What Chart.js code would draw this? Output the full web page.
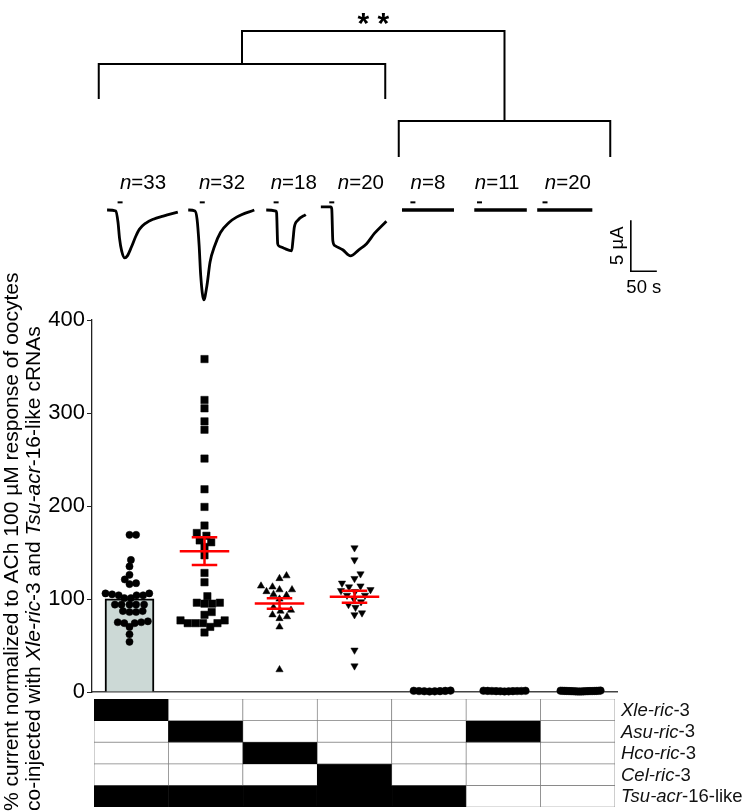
<!DOCTYPE html>
<html>
<head>
<meta charset="utf-8">
<script src="https://cdn.jsdelivr.net/npm/chart.js@4.4.0/dist/chart.umd.min.js"></script>
<style>
  html, body { margin: 0; padding: 0; background: #fff; }
  #wrap { position: relative; width: 750px; height: 812px; }
  #wrap canvas { position: absolute; left: 0; }
</style>
</head>
<body>
<div id="wrap">
  <canvas id="main" width="750" height="812" style="top:0"></canvas>
  <canvas id="traces" width="750" height="320" style="top:0"></canvas>
  <canvas id="table" width="750" height="115" style="top:697px"></canvas>
</div>
<script>
const FONT = '"Liberation Sans", Arial, sans-serif';

// ---- data: % current normalized to Xle-ric-3 + Tsu-acr-16-like ----
const xleRic3 = [169, 169, 142, 135, 126, 121, 116, 117, 104, 104, 104, 106, 106, 105, 101, 101,
  94, 94, 94, 94, 94, 87, 86, 86, 87, 76, 75, 74, 75, 74, 70, 62, 54];
const asuRic3 = [358, 314, 305, 291, 282, 251, 218, 199, 179, 171, 168, 163, 161, 156, 147, 128,
  118, 103, 96, 96, 95, 95, 86, 77, 77, 83, 74, 74, 74, 74, 70, 64];
const hcoRic3 = [122, 125, 110, 110, 108, 113, 114, 104, 105, 100, 91, 88, 83, 87, 81, 79, 70, 24];
const celRic3 = [155, 142, 127, 122, 113, 117, 114, 109, 104, 108, 110, 94, 97, 91, 83, 85, 45, 28, 104, 100];
const tsuOnly = [1.2, 0.8, 1.5, 0.6, 1.0, 1.3, 0.7, 0.9];
const asuOnly = [0.9, 1.1, 0.8, 1.3, 0.6, 1.0, 1.2, 0.7, 1.4, 0.9, 1.1];
const noRic = [1.0, 0.8, 1.3, 0.6, 1.1, 0.9, 1.4, 0.7, 1.2, 1.0, 0.5, 1.3, 0.8, 1.1, 0.9, 1.5, 0.6, 1.2, 1.0, 0.7];

const groups = [xleRic3, asuRic3, hcoRic3, celRic3, tsuOnly, asuOnly, noRic];
const yTicks = [0, 100, 200, 300, 400];

// injection table (1 = cRNA injected)
const genes = ['Xle-ric-3', 'Asu-ric-3', 'Hco-ric-3', 'Cel-ric-3', 'Tsu-acr-16-like'];
const injected = [
  [1, 0, 0, 0, 0, 0, 0],
  [0, 1, 0, 0, 0, 1, 0],
  [0, 0, 1, 0, 0, 0, 0],
  [0, 0, 0, 1, 0, 0, 0],
  [1, 1, 1, 1, 1, 0, 0]
];

// representative traces: [time s, current µA]
const trace1 = [[0, 0], [17, -0.1], [21, -1.2], [24, -2.8], [28, -4.0], [34, -4.7], [39, -4.5], [47, -3.6],
  [55, -2.6], [62, -1.9], [74, -1.3], [89, -0.9], [108, -0.6], [136, -0.2]];
const trace2 = [[0, 0], [13, -0.1], [17, -0.9], [21, -3.5], [24, -6.4], [30, -8.8], [36, -7.4], [42, -5.1],
  [51, -3.5], [62, -2.2], [78, -1.25], [93, -0.7], [127, 0]];
const trace3 = [[0, 0], [19, -0.1], [20, -0.3], [22, -3.3], [25, -3.55], [34, -3.75], [49, -4.0], [51.5, -2.9],
  [54, -1.7], [61, -1.0], [76, -0.45]];
const trace4 = [[0, 0.3], [19, 0.3], [21, 0.1], [23, -3.0], [27, -3.5], [42, -3.9], [57, -4.5], [73, -3.9],
  [88, -3.3], [103, -2.3], [126, -1.1]];
const trace5 = [[0, 0], [100, 0]];
const trace6 = [[0, 0], [101, 0]];
const trace7 = [[0, 0], [106, 0]];
const traces = [trace1, trace2, trace3, trace4, trace5, trace6, trace7];
const achAt = [25, 27, 19, 21, 21, 10, 15];   // ACh application, s after trace start

// ---- layout ----
const AREA = { left: 92, right: 617, top: 320, bottom: 692 };
const PX_X = (AREA.right - AREA.left) / 7;
const PX_Y = (AREA.bottom - AREA.top) / 400;
const traceStart = [29, 185, 335, 440, 596, 735, 856];   // panel time axis, s
const nLabelAt = [98, 250, 388, 517, 646, 779, 915];
const SCALE_BAR = { t: 1036, i: -1, dt: 50, di: 5 };
const COLS = [0, 1, 2, 3, 4, 5, 6];

const mean = a => a.reduce((s, v) => s + v, 0) / a.length;
const sem = a => {
  const m = mean(a);
  return Math.sqrt(a.reduce((s, v) => s + (v - m) ** 2, 0) / (a.length - 1)) / Math.sqrt(a.length);
};

// beeswarm offsets (in category units)
function swarm(vals, d, maxHalf) {
  const order = vals.map((v, i) => i).sort((a, b) => vals[a] - vals[b]);
  const placed = [];
  const off = new Array(vals.length).fill(0);
  for (const i of order) {
    const y = vals[i] * PX_Y;
    let dx = 0;
    for (let k = 0; k < 600; k++) {
      dx = (k % 2 ? 1 : -1) * Math.ceil(k / 2) * 0.5;
      if (placed.every(p => Math.hypot(p.x - dx, p.y - y) >= d)) break;
    }
    placed.push({ x: dx, y });
    off[i] = dx;
  }
  const m = Math.max(...off.map(Math.abs));
  const s = m > maxHalf ? maxHalf / m : 1;
  return off.map(o => o * s / PX_X);
}

function errBar(c, vals) {
  const m = mean(vals), s = sem(vals);
  return [
    { x: c - 0.33, y: m }, { x: c + 0.33, y: m }, { x: c, y: null },
    { x: c - 0.17, y: m + s }, { x: c + 0.17, y: m + s }, { x: c, y: null },
    { x: c - 0.17, y: m - s }, { x: c + 0.17, y: m - s }, { x: c, y: null },
    { x: c, y: m - s }, { x: c, y: m + s }
  ];
}

function geneSegs(name) {
  const m = name.match(/^(\w+-(?:ric|acr))(.*)$/);
  return m ? [[m[1], 1], [m[2], 0]] : [[name, 0]];
}

function drawRich(ctx, segs, x, y, size, align) {
  const fontOf = it => (it ? 'italic ' : '') + size + 'px ' + FONT;
  let w = 0;
  segs.forEach(([t, it]) => { ctx.font = fontOf(it); w += ctx.measureText(t).width; });
  let cx = align === 'center' ? x - w / 2 : x;
  ctx.textAlign = 'left';
  segs.forEach(([t, it]) => { ctx.font = fontOf(it); ctx.fillText(t, cx, y); cx += ctx.measureText(t).width; });
}

// ---- main scatter chart ----
const markers = [
  { style: 'circle', r: 3.6, d: 6.6, half: 24 },
  { style: 'rect', r: 5.2, d: 8, half: 24 },
  { style: 'triangle', r: 4.2, d: 7.5, half: 24 },
  { style: 'triangle', r: 4.2, d: 7.5, half: 24, rot: 180 },
  { style: 'circle', r: 3.8, d: 7, half: 21 },
  { style: 'circle', r: 3.8, d: 7, half: 21 },
  { style: 'circle', r: 3.8, d: 7, half: 21 }
];

const datasets = [{
  type: 'bar',
  data: [{ x: 0, y: mean(xleRic3) }],
  backgroundColor: 'rgb(204,217,214)',
  borderColor: '#000',
  borderWidth: 2,
  barThickness: 49,
  order: 3
}];

groups.forEach((vals, g) => {
  const mk = markers[g];
  const off = swarm(vals, mk.d, mk.half);
  datasets.push({
    type: 'scatter',
    data: vals.map((v, i) => ({ x: g + off[i], y: v })),
    pointStyle: mk.style,
    pointRotation: mk.rot || 0,
    pointRadius: mk.r,
    backgroundColor: '#000',
    borderColor: '#000',
    borderWidth: 0.5,
    clip: false,
    order: 2
  });
});

[1, 2, 3].forEach(g => {
  datasets.push({
    type: 'line',
    data: errBar(g, groups[g]),
    borderColor: '#ff0000',
    borderWidth: 2.5,
    pointRadius: 0,
    spanGaps: false,
    order: 1
  });
});

const mainDecor = {
  id: 'mainDecor',
  afterDraw(chart) {
    const { ctx, scales: { x } } = chart;
    ctx.save();
    ctx.strokeStyle = '#000';
    ctx.lineWidth = 2;
    const l0 = x.getPixelForValue(-0.41), l1 = x.getPixelForValue(3.41);
    const r0 = x.getPixelForValue(3.59), r1 = x.getPixelForValue(6.41);
    const lm = (l0 + l1) / 2, rm = (r0 + r1) / 2;
    const yTop = 31, yL = 64, yLEnd = 99, yR = 121, yREnd = 157;
    ctx.beginPath();
    ctx.moveTo(l0, yLEnd); ctx.lineTo(l0, yL); ctx.lineTo(l1, yL); ctx.lineTo(l1, yLEnd);
    ctx.moveTo(r0, yREnd); ctx.lineTo(r0, yR); ctx.lineTo(r1, yR); ctx.lineTo(r1, yREnd);
    ctx.moveTo(lm, yL); ctx.lineTo(lm, yTop); ctx.lineTo(rm, yTop); ctx.lineTo(rm, yR);
    ctx.stroke();

    ctx.fillStyle = '#000';
    ctx.font = 'bold 30px ' + FONT;
    ctx.textAlign = 'center';
    ctx.textBaseline = 'alphabetic';
    ctx.fillText('* *', (lm + rm) / 2, 33);

    // y axis title, two lines
    ctx.textBaseline = 'middle';
    ctx.translate(0, 811);
    ctx.rotate(-Math.PI / 2);
    drawRich(ctx, [['% current normalized to ACh 100 µM response of oocytes', 0]], 0, 12, 21, 'left');
    drawRich(ctx, [['co-injected with ', 0], ...geneSegs('Xle-ric-3'), [' and ', 0],
      ...geneSegs('Tsu-acr-16-like'), [' cRNAs', 0]], 0, 34, 21, 'left');
    ctx.restore();
  }
};

new Chart(document.getElementById('main'), {
  data: { datasets },
  options: {
    responsive: false,
    devicePixelRatio: 1,
    animation: false,
    events: [],
    layout: { padding: { left: AREA.left - 60, right: 750 - AREA.right, top: AREA.top, bottom: 812 - AREA.bottom } },
    plugins: { legend: { display: false }, tooltip: { enabled: false } },
    scales: {
      x: {
        type: 'linear',
        min: -0.5,
        max: 6.5,
        offset: false,
        afterBuildTicks(s) { s.ticks = COLS.map(v => ({ value: v })); },
        ticks: { display: false },
        grid: { display: false },
        border: { display: true, color: '#444', width: 1.5, dash: [2, 2] },
        afterFit(s) { s.height = 0; }
      },
      y: {
        min: 0,
        max: 400,
        afterBuildTicks(s) { s.ticks = yTicks.map(v => ({ value: v })); },
        ticks: { color: '#000', font: { family: FONT, size: 22 }, padding: 2 },
        grid: { drawOnChartArea: false, drawTicks: true, tickLength: 5, color: '#222' },
        border: { display: true, color: '#222', width: 1.3 },
        afterFit(s) { s.width = 60; }
      }
    }
  },
  plugins: [mainDecor]
});

// ---- trace panel ----
const traceSets = traces.map((tr, i) => ({
  type: 'line',
  data: tr.map(([t, v]) => ({ x: traceStart[i] + t, y: v })),
  borderColor: '#000',
  borderWidth: i >= 4 ? 3.5 : 2.8,
  pointRadius: 0,
  cubicInterpolationMode: 'monotone'
}));
traceSets.push({
  type: 'scatter',
  data: achAt.map((t, i) => ({ x: traceStart[i] + t, y: 0.75 })),
  pointStyle: 'line',
  pointRadius: 2.5,
  borderColor: '#000',
  borderWidth: 2
});
traceSets.push({
  type: 'line',
  data: [{ x: SCALE_BAR.t, y: SCALE_BAR.i }, { x: SCALE_BAR.t, y: SCALE_BAR.i - SCALE_BAR.di },
    { x: SCALE_BAR.t + SCALE_BAR.dt, y: SCALE_BAR.i - SCALE_BAR.di }],
  borderColor: '#000',
  borderWidth: 1.6,
  pointRadius: 0
});

const traceDecor = {
  id: 'traceDecor',
  afterDraw(chart) {
    const { ctx, scales: { x, y } } = chart;
    ctx.save();
    ctx.fillStyle = '#000';
    ctx.textBaseline = 'middle';
    groups.forEach((g, i) => drawRich(ctx, [['n', 1], ['=' + g.length, 0]], x.getPixelForValue(nLabelAt[i]), 183, 20.5, 'center'));
    const sx = x.getPixelForValue(SCALE_BAR.t);
    const sy0 = y.getPixelForValue(SCALE_BAR.i), sy1 = y.getPixelForValue(SCALE_BAR.i - SCALE_BAR.di);
    drawRich(ctx, [['50 s', 0]], x.getPixelForValue(SCALE_BAR.t + SCALE_BAR.dt / 2), sy1 + 17, 18.5, 'center');
    ctx.translate(sx - 13, (sy0 + sy1) / 2);
    ctx.rotate(-Math.PI / 2);
    drawRich(ctx, [['5 µA', 0]], 0, 0, 18.5, 'center');
    ctx.restore();
  }
};

new Chart(document.getElementById('traces'), {
  data: { datasets: traceSets },
  options: {
    responsive: false,
    devicePixelRatio: 1,
    animation: false,
    events: [],
    layout: { padding: { left: 92, right: 50, top: 0, bottom: 8 } },
    plugins: { legend: { display: false }, tooltip: { enabled: false } },
    scales: {
      x: { type: 'linear', min: 0, max: 1169, display: false },
      y: { type: 'linear', min: -10, max: 20, display: false }
    }
  },
  plugins: [traceDecor]
});

// ---- injection table ----
const tableSets = injected.map((row, r) => ({
  type: 'bar',
  data: row.map((v, c) => ({ x: c, y: [r, r + 1] })),
  backgroundColor: row.map(v => (v ? '#000' : '#fff')),
  borderColor: row.map(v => (v ? '#000' : '#7d7d7d')),
  borderWidth: 0.7,
  borderSkipped: false,
  grouped: false,
  barPercentage: 1,
  categoryPercentage: 1
}));

const tableLabels = {
  id: 'tableLabels',
  afterDraw(chart) {
    const { ctx, chartArea, scales: { y } } = chart;
    ctx.save();
    ctx.fillStyle = '#111';
    ctx.textBaseline = 'middle';
    genes.forEach((g, r) => drawRich(ctx, geneSegs(g), chartArea.right + 6, y.getPixelForValue(r + 0.5) + 1, 18.5, 'left'));
    ctx.restore();
  }
};

new Chart(document.getElementById('table'), {
  data: { datasets: tableSets },
  options: {
    responsive: false,
    devicePixelRatio: 1,
    animation: false,
    events: [],
    layout: { padding: { left: 94, right: 135, top: 2, bottom: 5 } },
    plugins: { legend: { display: false }, tooltip: { enabled: false } },
    scales: {
      x: {
        type: 'linear', min: -0.5, max: 6.5, offset: false, display: false,
        afterBuildTicks(s) { s.ticks = COLS.map(v => ({ value: v })); }
      },
      y: { type: 'linear', min: 0, max: 5, reverse: true, display: false }
    }
  },
  plugins: [tableLabels]
});
</script>
</body>
</html>
